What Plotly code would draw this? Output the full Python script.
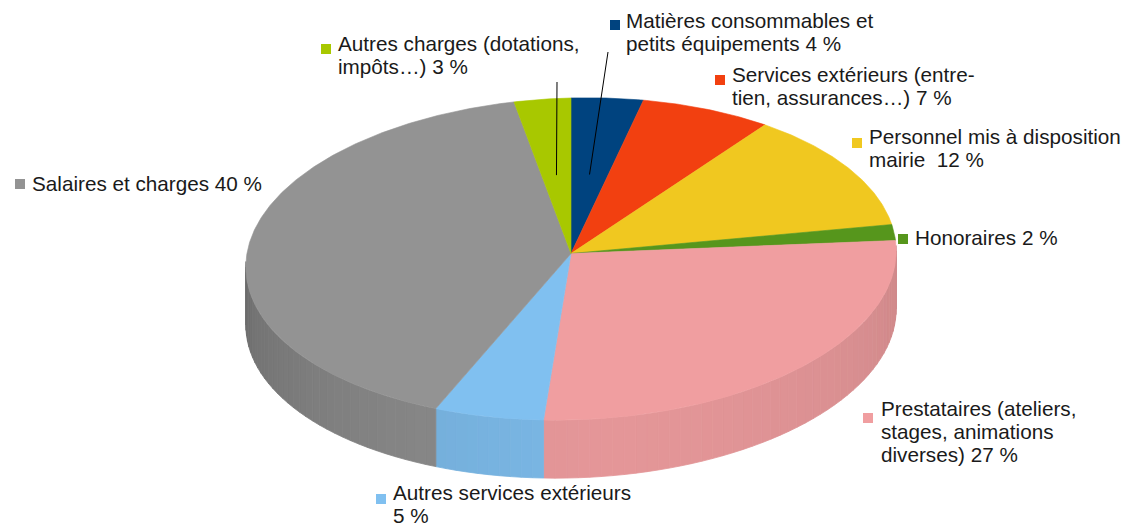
import numpy as np
import plotly.graph_objects as go

# ---- data ----
categories = [
    "Matières consommables et petits équipements",
    "Services extérieurs (entretien, assurances…)",
    "Personnel mis à disposition mairie",
    "Honoraires",
    "Prestataires (ateliers, stages, animations diverses)",
    "Autres services extérieurs",
    "Salaires et charges",
    "Autres charges (dotations, impôts…)",
]
# shares (%); labels show rounded values
values = [3.7, 6.8, 12.4, 1.6, 26.8, 5.3, 40.5, 2.9]
label_lines = [
    ["Matières consommables et", "petits équipements 4 %"],
    ["Services extérieurs (entre-", "tien, assurances…) 7 %"],
    ["Personnel mis à disposition", "mairie  12 %"],
    ["Honoraires 2 %"],
    ["Prestataires (ateliers,", "stages, animations", "diverses) 27 %"],
    ["Autres services extérieurs", "5 %"],
    ["Salaires et charges 40 %"],
    ["Autres charges (dotations,", "impôts…) 3 %"],
]
colors = ["#00437f", "#f24010", "#f0c820", "#56961c",
          "#f09ea0", "#80c0f0", "#939393", "#a8c800"]

# ---- layout / style ----
PAGE_MARGIN = 8          # default <body> margin of the html page
WIN_W, WIN_H = 1130, 528
W, H = WIN_W - PAGE_MARGIN, WIN_H - PAGE_MARGIN
CX, CY = 571, 253.5      # apex of the pie
A, B = 325, 160.8        # half axes
PERSP = 0.034            # mild perspective
SKEW = 8                 # slight tilt (right side higher)
DEPTH = 58
FONT = "Liberation Sans, Arial, sans-serif"
FS = 20.7
LINE_H = 23.3
# (square x, square y, text x, first line y) in window pixels
label_pos = [
    (615, 25, 624, 20),
    (720, 80, 730, 74),
    (857, 143, 867, 136),
    (903, 239, 913, 237),
    (868, 418, 879, 408),
    (381, 499, 391, 492),
    (20, 184, 30, 183),
    (326, 49, 336, 43),
]
leaders = {0: (608, 52), 7: (557, 82)}


def proj(theta_deg, r=1.0, dy=0.0):
    t = np.radians(theta_deg)
    s, c = np.sin(t), np.cos(t)
    d = 1 + PERSP * r * c
    return CX + A * r * s / d, CY - B * r * c / d - SKEW * r * s + dy


def shade(hexcol, f):
    h = hexcol.lstrip("#")
    rgb = [int(h[i:i + 2], 16) for i in (0, 2, 4)]
    return "rgb({},{},{})".format(*[max(0, min(255, int(round(c * f)))) for c in rgb])


def light(theta):
    if theta < 175:
        return 0.95 - 0.08 * ((175 - theta) / 75.0) ** 1.5
    return 0.95 - 0.20 * ((theta - 175) / 90.0) ** 1.5


fig = go.Figure()

total = float(sum(values))
bounds = np.concatenate([[0], np.cumsum(values)]) / total * 360.0

# side walls (visible front half: 90..270 deg)
for i, col in enumerate(colors):
    a, b = bounds[i], bounds[i + 1]
    lo, hi = max(a, 90.0), min(b, 270.0)
    if hi <= lo:
        continue
    n = max(1, int(np.ceil((hi - lo) / 2.0)))
    edges = np.linspace(lo, hi, n + 1)
    for k in range(n):
        t0, t1 = edges[k], edges[k + 1]
        ts = np.linspace(t0, t1, 4)
        xt, yt = proj(ts)
        xb, yb = proj(ts[::-1], dy=DEPTH)
        c = shade(col, light((t0 + t1) / 2))
        fig.add_trace(go.Scatter(
            x=np.concatenate([xt, xb, xt[:1]]),
            y=np.concatenate([yt, yb, yt[:1]]),
            mode="lines", fill="toself", fillcolor=c,
            line=dict(color=c, width=0.8), hoverinfo="skip", showlegend=False))

# top faces
for i, col in enumerate(colors):
    a, b = bounds[i], bounds[i + 1]
    ts = np.linspace(a, b, max(4, int((b - a) * 2)))
    xa, ya = proj(ts)
    fig.add_trace(go.Scatter(
        x=np.concatenate([[CX], xa, [CX]]),
        y=np.concatenate([[CY], ya, [CY]]),
        mode="lines", fill="toself", fillcolor=col,
        line=dict(color=col, width=0.6), hoverinfo="skip",
        name=categories[i], showlegend=False))

# leader lines
for i, (lx, ly) in leaders.items():
    mid = (bounds[i] + bounds[i + 1]) / 2
    px, py = proj(mid, r=0.5)
    fig.add_trace(go.Scatter(x=[lx, px], y=[ly, py], mode="lines",
                             line=dict(color="#000000", width=1),
                             hoverinfo="skip", showlegend=False))

# labels
shapes = []
annotations = []
for i, (sx, sy, tx, ty) in enumerate(label_pos):
    shapes.append(dict(type="rect", xref="x", yref="y",
                       x0=sx - 5, x1=sx + 5, y0=sy - 5, y1=sy + 5,
                       fillcolor=colors[i], line=dict(width=0)))
    for j, line in enumerate(label_lines[i]):
        annotations.append(dict(x=tx, y=ty + j * LINE_H, xref="x", yref="y",
                                text=line, showarrow=False, xanchor="left",
                                yanchor="middle",
                                font=dict(family=FONT, size=FS, color="#1a1a1a")))

fig.update_layout(
    width=W, height=H,
    margin=dict(l=0, r=0, t=0, b=0),
    paper_bgcolor="white", plot_bgcolor="white",
    xaxis=dict(range=[PAGE_MARGIN, WIN_W], visible=False, fixedrange=True),
    yaxis=dict(range=[WIN_H, PAGE_MARGIN], visible=False, fixedrange=True),
    shapes=shapes, annotations=annotations, showlegend=False,
)

fig.write_html("out.html")
